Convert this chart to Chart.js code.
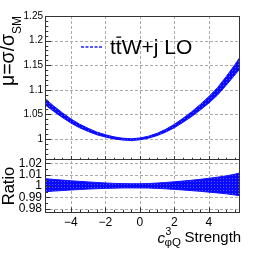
<!DOCTYPE html>
<html>
<head>
<meta charset="utf-8">
<script src="https://cdn.jsdelivr.net/npm/chart.js@4.4.0/dist/chart.umd.min.js"></script>
<style>
html, body { margin: 0; padding: 0; background: #fff; }
#grafico { display: block; }
</style>
</head>
<body>
<canvas id="grafico" width="266" height="259"></canvas>
<script>
// dados (c3_phiQ)
var pontos_x = [-5.5, -5, -4.5, -4, -3.5, -3, -2.5, -2, -1.5, -1, -0.5, 0,
	0.5, 1, 1.5, 2, 2.5, 3, 3.5, 4, 4.5, 5, 5.5, 5.8];
var mu_central = [1.075, 1.061, 1.048, 1.036, 1.026, 1.018, 1.011, 1.006, 1.002, 0.9995, 0.9985, 1.000,
	1.0035, 1.009, 1.0165, 1.026, 1.0375, 1.050, 1.064, 1.079, 1.096, 1.117, 1.139, 1.153];
var mu_superior = [1.0820, 1.0672, 1.0534, 1.0408, 1.0302, 1.0217, 1.0141, 1.0087, 1.0043, 1.0016, 1.0005, 1.0020,
	1.0057, 1.0116, 1.0197, 1.0298, 1.0421, 1.0554, 1.0703, 1.0863, 1.1045, 1.1269, 1.1508, 1.1663];
var mu_inferior = [1.0696, 1.0562, 1.0438, 1.0324, 1.0228, 1.0153, 1.0086, 1.0039, 1.0001, 0.9978, 0.9968, 0.9983,
	1.0017, 1.0069, 1.0140, 1.0229, 1.0339, 1.0457, 1.0590, 1.0732, 1.0893, 1.1093, 1.1300, 1.1431];
var razao_superior = [1.0065, 1.0058, 1.0052, 1.0046, 1.0041, 1.0036, 1.0031, 1.0027, 1.0023, 1.0021, 1.0020, 1.0020,
	1.0022, 1.0026, 1.0031, 1.0037, 1.0044, 1.0051, 1.0059, 1.0068, 1.0078, 1.0089, 1.0104, 1.0115];
var razao_inferior = [0.9950, 0.9955, 0.9960, 0.9965, 0.9969, 0.9973, 0.9976, 0.9979, 0.9981, 0.9983, 0.9983, 0.9983,
	0.9982, 0.9979, 0.9975, 0.9970, 0.9965, 0.9959, 0.9953, 0.9946, 0.9939, 0.9931, 0.9921, 0.9914];

var ticks_x = [-4, -2, 0, 2, 4];
var rotulos_x = ["\u22124", "\u22122", "0", "2", "4"];
var ticks_mu = [1, 1.05, 1.1, 1.15, 1.2, 1.25];
var rotulos_mu = ["1", "1.05", "1.1", "1.15", "1.2", "1.25"];
var ticks_razao = [0.98, 0.99, 1, 1.01, 1.02];
var rotulos_razao = ["0.98", "0.99", "1", "1.01", "1.02"];

var fonte = "'Liberation Sans', Arial, sans-serif";

function pares(ys) {
	return pontos_x.map(function (x, i) {
		return { x: x, y: ys[i] };
	});
}

var canvas = document.getElementById("grafico");
var ctx = canvas.getContext("2d");

// textura azul pontilhada parecida com o preenchimento do ROOT
var mini = document.createElement("canvas");
mini.width = 3;
mini.height = 3;
var mctx = mini.getContext("2d");
mctx.fillStyle = "#0a0aff";
mctx.fillRect(0, 0, 3, 3);
mctx.fillStyle = "#5a5aff";
mctx.fillRect(1, 1, 1, 1);
var textura = ctx.createPattern(mini, "repeat");

// grade pontilhada atras das curvas
var plugin_grade = {
	id: "grade",
	beforeDatasetsDraw: function (chart) {
		var c = chart.ctx;
		var sx = chart.scales.x, sy = chart.scales.y, sr = chart.scales.yr;
		c.save();
		c.strokeStyle = "#aaaaaa";
		c.lineWidth = 1;
		c.setLineDash([3, 2]);
		ticks_x.forEach(function (v) {
			var px = Math.round(sx.getPixelForValue(v)) + 0.5;
			c.beginPath();
			c.moveTo(px, sy.top);
			c.lineTo(px, sr.bottom);
			c.stroke();
		});
		ticks_mu.forEach(function (v) {
			var py = Math.round(sy.getPixelForValue(v)) + 0.5;
			c.beginPath();
			c.moveTo(sx.left, py);
			c.lineTo(sx.right, py);
			c.stroke();
		});
		ticks_razao.forEach(function (v) {
			var py = Math.round(sr.getPixelForValue(v)) + 0.5;
			c.beginPath();
			c.moveTo(sx.left, py);
			c.lineTo(sx.right, py);
			c.stroke();
		});
		c.restore();
	},
	afterDatasetsDraw: function (chart) {
		var c = chart.ctx;
		var sx = chart.scales.x, sy = chart.scales.y, sr = chart.scales.yr;
		var l = Math.round(sx.left) + 0.5, r = Math.round(sx.right) - 0.5;
		var t = Math.round(sy.top) + 0.5, m = Math.round(sy.bottom) + 0.5, b = Math.round(sr.bottom) - 0.5;
		c.save();
		c.strokeStyle = "#333";
		c.lineWidth = 1;
		c.strokeRect(l, t, r - l, m - t);
		c.strokeRect(l, m, r - l, b - m);

		// marcas dos eixos
		function marca_y(escala, v, tam) {
			var py = Math.round(escala.getPixelForValue(v)) + 0.5;
			c.beginPath();
			c.moveTo(l, py);
			c.lineTo(l + tam, py);
			c.stroke();
		}
		var v;
		for (v = 960; v <= 1250; v += 10) {
			marca_y(sy, v / 1000, v % 50 == 0 ? 5.5 : 2.8);
		}
		for (v = 980; v <= 1020; v += 5) {
			marca_y(sr, v / 1000, v % 10 == 0 ? 5 : 2.5);
		}
		for (v = -55; v <= 55; v += 5) {
			var px = Math.round(sx.getPixelForValue(v / 10)) + 0.5;
			var maior = v % 20 == 0;
			c.beginPath();
			c.moveTo(px, b);
			c.lineTo(px, b - (maior ? 5 : 2.7));
			c.moveTo(px, m);
			c.lineTo(px, m - (maior ? 3.5 : 1.8));
			c.stroke();
		}
		c.restore();

		// titulos e legenda
		c.save();
		c.fillStyle = "#000";
		c.textBaseline = "alphabetic";
		c.textAlign = "left";

		// titulos dos eixos y
		c.save();
		c.rotate(-Math.PI / 2);
		c.font = "19.5px " + fonte;
		var txt = "\u03bc=\u03c3/\u03c3";
		c.fillText(txt, -86, 13.5);
		var w = c.measureText(txt).width;
		c.font = "12px " + fonte;
		c.fillText("SM", -86 + w, 20.5);
		c.font = "16.5px " + fonte;
		c.textAlign = "center";
		c.fillText("Ratio", -186, 14);
		c.restore();

		// legenda
		c.save();
		c.strokeStyle = "#2020ff";
		c.lineWidth = 1.5;
		c.setLineDash([3, 1.5]);
		c.beginPath();
		c.moveTo(81, 47);
		c.lineTo(103, 47);
		c.stroke();
		c.restore();
		c.font = "21px " + fonte;
		c.fillText("ttW+j LO", 110, 54);
		var wt = c.measureText("t").width;
		c.fillRect(110 + wt + 0.5, 36.5, wt - 1, 1.3);

		// titulo do eixo x
		c.font = "italic 15px " + fonte;
		c.fillText("c", 157.5, 242.5);
		c.font = "10.5px " + fonte;
		c.fillText("3", 165.5, 235);
		c.font = "11.5px " + fonte;
		c.fillText("\u03c6Q", 164.5, 246);
		c.font = "15px " + fonte;
		c.fillText("Strength", 184.5, 242);
		c.restore();
	}
};

new Chart(canvas, {
	type: "line",
	data: {
		datasets: [
			{
				label: "mu_inf",
				data: pares(mu_inferior),
				yAxisID: "y",
				borderColor: "#1010ff",
				borderWidth: 1,
				pointRadius: 0,
				fill: false,
			},
			{
				label: "mu_sup",
				data: pares(mu_superior),
				yAxisID: "y",
				borderColor: "#1010ff",
				backgroundColor: textura,
				borderWidth: 1,
				pointRadius: 0,
				fill: "-1",
			},
			{
				label: "mu",
				data: pares(mu_central),
				yAxisID: "y",
				borderColor: "#1010ff",
				borderWidth: 1,
				pointRadius: 0,
				fill: false,
			},
			{
				label: "razao_inf",
				data: pares(razao_inferior),
				yAxisID: "yr",
				borderColor: "#1010ff",
				borderWidth: 1,
				pointRadius: 0,
				fill: false,
			},
			{
				label: "razao_sup",
				data: pares(razao_superior),
				yAxisID: "yr",
				borderColor: "#1010ff",
				backgroundColor: textura,
				borderWidth: 1,
				pointRadius: 0,
				fill: "-1",
			},
			{
				label: "razao",
				data: pares(mu_central.map(function () { return 1; })),
				yAxisID: "yr",
				borderColor: "#0000b0",
				borderWidth: 1.5,
				pointRadius: 0,
				fill: false,
			},
		],
	},
	options: {
		responsive: false,
		animation: false,
		devicePixelRatio: 1,
		layout: { padding: { left: 0, right: 26, top: 16, bottom: 0 } },
		plugins: {
			legend: { display: false },
			tooltip: { enabled: false },
		},
		scales: {
			x: {
				type: "linear",
				min: -5.5,
				max: 5.8,
				grid: { display: false, drawTicks: false },
				border: { display: false },
				afterBuildTicks: function (s) {
					s.ticks = ticks_x.map(function (v) { return { value: v }; });
				},
				afterFit: function (s) { s.height = 46; },
				ticks: {
					padding: 2.5,
					maxRotation: 0,
					autoSkip: false,
					color: "#000",
					font: { family: fonte, size: 12 },
					callback: function (v, i) { return rotulos_x[i]; },
				},
			},
			yr: {
				type: "linear",
				position: "left",
				stack: "painel",
				stackWeight: 54,
				weight: 0,
				min: 0.9762,
				max: 1.0238,
				grid: { display: false, drawTicks: false },
				border: { display: false },
				afterBuildTicks: function (s) {
					s.ticks = ticks_razao.map(function (v) { return { value: v }; });
				},
				afterFit: function (s) { s.width = 45; },
				ticks: {
					padding: 3,
					autoSkip: false,
					color: "#000",
					font: { family: fonte, size: 12 },
					callback: function (v, i) { return rotulos_razao[i]; },
				},
			},
			y: {
				type: "linear",
				position: "left",
				stack: "painel",
				stackWeight: 143,
				weight: 1,
				min: 0.9593,
				max: 1.25,
				grid: { display: false, drawTicks: false },
				border: { display: false },
				afterBuildTicks: function (s) {
					s.ticks = ticks_mu.map(function (v) { return { value: v }; });
				},
				afterFit: function (s) { s.width = 45; },
				ticks: {
					padding: 2,
					autoSkip: false,
					color: "#000",
					font: { family: fonte, size: 10 },
					callback: function (v, i) { return rotulos_mu[i]; },
				},
			},
		},
	},
	plugins: [plugin_grade],
});
</script>
</body>
</html>
